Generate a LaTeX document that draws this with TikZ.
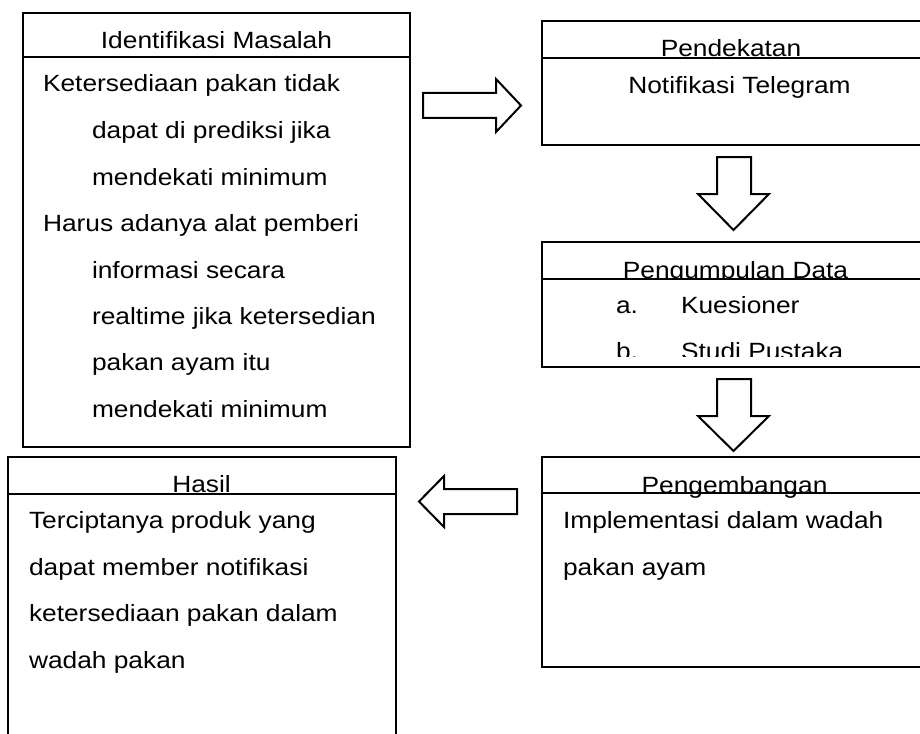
\documentclass[tikz,border=0pt]{standalone}
\usepackage{fontspec}
\setmainfont{Liberation Sans}[FakeStretch=1.12]
\newcommand\bodyfont{\fontsize{23.5}{28}\selectfont}
\begin{document}
\begin{tikzpicture}[x=1pt,y=-1pt,
  box/.style={draw, line width=2pt, rectangle, inner sep=0pt, outer sep=0pt, anchor=north west},
  divline/.style={line width=2pt},
  txt/.style={inner sep=0pt, outer sep=0pt, font=\bodyfont, anchor=base west},
  ctxt/.style={inner sep=0pt, outer sep=0pt, font=\bodyfont, anchor=base},
  blockarrow/.style={draw, line width=2pt, line join=miter, fill=white}]
\useasboundingbox (0,0) rectangle (920,733);
\clip (0,0) rectangle (920,733);

% ---------- boxes ----------
\node[box, minimum width=387pt, minimum height=434pt] (idm) at (23,13) {};
\node[box, minimum width=390pt, minimum height=124pt] (pend) at (542,21) {};
\node[box, minimum width=390pt, minimum height=125pt] (peng) at (542,242) {};
\node[box, minimum width=390pt, minimum height=210pt] (kemb) at (542,457) {};
\node[box, minimum width=388pt, minimum height=290pt] (hasil) at (8,457) {};

% ---------- texts ----------
\node[ctxt] (t1) at (216.5,49) {Identifikasi Masalah};
\node[txt] (l1) at (43,92) {Ketersediaan pakan tidak};
\node[txt] (l2) at (92,138.5) {dapat di prediksi jika};
\node[txt] (l3) at (92,185) {mendekati minimum};
\node[txt] (l4) at (43,231.5) {Harus adanya alat pemberi};
\node[txt] (l5) at (92,278) {informasi secara};
\node[txt] (l6) at (92,324) {realtime jika ketersedian};
\node[txt] (l7) at (92,370.5) {pakan ayam itu};
\node[txt] (l8) at (92,417) {mendekati minimum};

\node[ctxt] (t2) at (731,57) {Pendekatan};
\node[ctxt] (p1) at (739.5,94) {Notifikasi Telegram};

\begin{scope}
  \clip (542,242) rectangle (920,279);
  \node[ctxt] (t3) at (735.5,278) {Pengumpulan Data};
\end{scope}
\begin{scope}
  \clip (542,279) rectangle (920,356);
  \node[txt] (ka) at (616,313) {a.};
  \node[txt] (kb) at (681,313) {Kuesioner};
  \node[txt] (sa) at (616,359.5) {b.};
  \node[txt] (sb) at (681,359.5) {Studi Pustaka};
\end{scope}

\begin{scope}
  \clip (542,457) rectangle (920,498);
  \node[ctxt] (t4) at (734.5,493) {Pengembangan};
\end{scope}
\node[txt] (m1) at (563,528) {Implementasi dalam wadah};
\node[txt] (m2) at (563,575) {pakan ayam};

\node[ctxt] (t5) at (201.5,492) {Hasil};
\node[txt] (h1) at (29,528) {Terciptanya produk yang};
\node[txt] (h2) at (29,575) {dapat member notifikasi};
\node[txt] (h3) at (29,621) {ketersediaan pakan dalam};
\node[txt] (h4) at (29,668) {wadah pakan};

% ---------- dividers ----------
\draw[divline] (idm.north west |- 0,57) -- (idm.north east |- 0,57);
\draw[divline] (pend.north west |- 0,58) -- (pend.north east |- 0,58);
\draw[divline] (peng.north west |- 0,279) -- (peng.north east |- 0,279);
\draw[divline] (kemb.north west |- 0,493) -- (kemb.north east |- 0,493);
\draw[divline] (hasil.north west |- 0,494) -- (hasil.north east |- 0,494);

% ---------- block arrows ----------
\draw[blockarrow] (423,93) -- (496,93) -- (496,79) -- (521,105.5) -- (496,132) -- (496,118) -- (423,118) -- cycle;
\draw[blockarrow] (717,157) -- (751,157) -- (751,194) -- (769,194) -- (733.5,230) -- (698,194) -- (717,194) -- cycle;
\draw[blockarrow] (717,379) -- (751,379) -- (751,416) -- (769,416) -- (733.5,451) -- (698,416) -- (717,416) -- cycle;
\draw[blockarrow] (517,489) -- (444,489) -- (444,476) -- (419,501.5) -- (444,527) -- (444,514) -- (517,514) -- cycle;
\end{tikzpicture}
\end{document}
